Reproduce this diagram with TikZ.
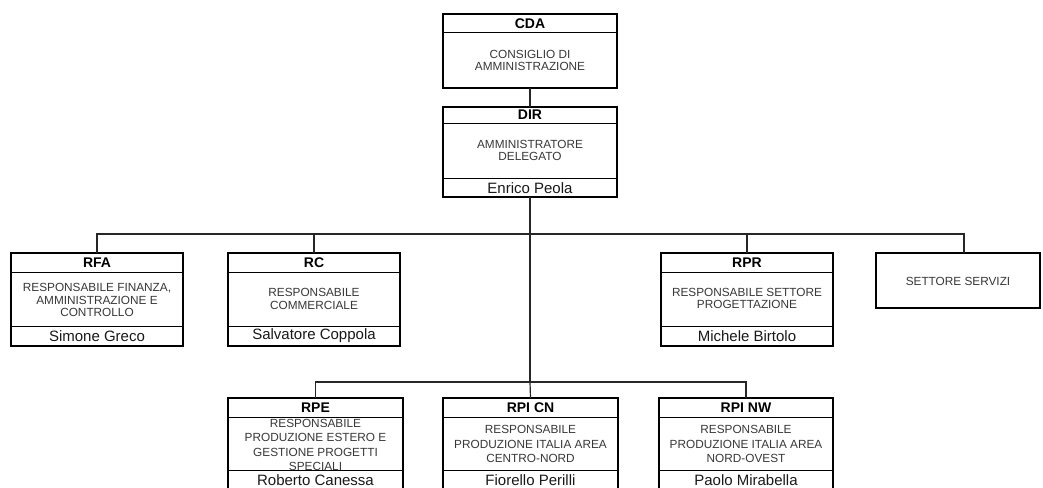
\documentclass[tikz,border=0pt]{standalone}
\usepackage{fontspec}
\setmainfont{Liberation Sans}
\tikzset{
  box/.style={draw=black, line width=2.2pt, inner sep=0pt, outer sep=0pt, fill=white},
  divline/.style={draw=black, line width=1pt},
  conn/.style={draw=black!85, line width=1.2pt},
  ttl/.style={inner sep=0pt, font=\fontsize{14}{16}\selectfont\bfseries, text=black},
  bodytxt/.style={inner sep=0pt, align=center, font=\fontsize{11.8}{12.8}\selectfont, text=black!78},
  bodytxtb/.style={inner sep=0pt, align=center, font=\fontsize{11.8}{14.3}\selectfont, text=black!78},
  nm/.style={inner sep=0pt, font=\fontsize{15}{16}\selectfont, text=black!90},
}
\begin{document}
\begin{tikzpicture}[x=1pt,y=-1pt]
\clip (0,0) rectangle (1043,487);
\fill[white] (0,0) rectangle (1043,487);

% ---- CDA ----
\node[box, minimum width=174pt, minimum height=74pt] (cda) at (530,51) {};
\draw[divline] ([yshift=-19pt]cda.north west) -- ([yshift=-19pt]cda.north east);
\node[ttl] (cda-t) at (530,23.5) {CDA};
\node[bodytxt] (cda-b) at (530,60.5) {CONSIGLIO DI\\AMMINISTRAZIONE};

% ---- DIR ----
\node[box, minimum width=174pt, minimum height=90pt] (dir) at (530,152) {};
\draw[divline] ([yshift=-16pt]dir.north west) -- ([yshift=-16pt]dir.north east);
\draw[divline] ([yshift=19pt]dir.south west) -- ([yshift=19pt]dir.south east);
\node[ttl] (dir-t) at (530,115) {DIR};
\node[bodytxt] (dir-b) at (530,150.5) {AMMINISTRATORE\\DELEGATO};
\node[nm] (dir-n) at (530,188) {Enrico Peola};

% ---- RFA ----
\node[box, minimum width=172pt, minimum height=93pt] (rfa) at (97,299.5) {};
\draw[divline] ([yshift=-19pt]rfa.north west) -- ([yshift=-19pt]rfa.north east);
\draw[divline] ([yshift=20pt]rfa.south west) -- ([yshift=20pt]rfa.south east);
\node[ttl] (rfa-t) at (97,262.5) {RFA};
\node[bodytxt] (rfa-b) at (97,300) {RESPONSABILE FINANZA,\\AMMINISTRAZIONE E\\CONTROLLO};
\node[nm] (rfa-n) at (97,336) {Simone Greco};

% ---- RC ----
\node[box, minimum width=172pt, minimum height=93pt] (rc) at (314,299.5) {};
\draw[divline] ([yshift=-19pt]rc.north west) -- ([yshift=-19pt]rc.north east);
\draw[divline] ([yshift=20pt]rc.south west) -- ([yshift=20pt]rc.south east);
\node[ttl] (rc-t) at (314,262.5) {RC};
\node[bodytxt] (rc-b) at (314,299) {RESPONSABILE\\COMMERCIALE};
\node[nm] (rc-n) at (314,336) {Salvatore Coppola};

% ---- RPR ----
\node[box, minimum width=172pt, minimum height=93pt] (rpr) at (747,299.5) {};
\draw[divline] ([yshift=-19pt]rpr.north west) -- ([yshift=-19pt]rpr.north east);
\draw[divline] ([yshift=20pt]rpr.south west) -- ([yshift=20pt]rpr.south east);
\node[ttl] (rpr-t) at (747,262.5) {RPR};
\node[bodytxt] (rpr-b) at (747,298.5) {RESPONSABILE SETTORE\\PROGETTAZIONE};
\node[nm] (rpr-n) at (747,336) {Michele Birtolo};

% ---- SETTORE SERVIZI ----
\node[box, minimum width=164pt, minimum height=55pt] (ss) at (958,280.5) {};
\node[bodytxt] (ss-b) at (958,281) {SETTORE SERVIZI};

% ---- RPE ----
\node[box, minimum width=175pt, minimum height=100pt] (rpe) at (315.5,448) {};
\draw[divline] ([yshift=-19pt]rpe.north west) -- ([yshift=-19pt]rpe.north east);
\draw[divline] ([yshift=-72pt]rpe.north west) -- ([yshift=-72pt]rpe.north east);
\node[ttl] (rpe-t) at (315.5,407.5) {RPE};
\node[bodytxtb] (rpe-b) at (315.5,445) {RESPONSABILE\\PRODUZIONE ESTERO E\\GESTIONE PROGETTI\\SPECIALI};
\node[nm] (rpe-n) at (315.5,480) {Roberto Canessa};

% ---- RPI CN ----
\node[box, minimum width=175pt, minimum height=100pt] (rpicn) at (530.5,448) {};
\draw[divline] ([yshift=-19pt]rpicn.north west) -- ([yshift=-19pt]rpicn.north east);
\draw[divline] ([yshift=-72pt]rpicn.north west) -- ([yshift=-72pt]rpicn.north east);
\node[ttl] (rpicn-t) at (530.5,407.5) {RPI CN};
\node[bodytxtb] (rpicn-b) at (530.5,444) {RESPONSABILE\\PRODUZIONE ITALIA AREA\\CENTRO-NORD};
\node[nm] (rpicn-n) at (530.5,480) {Fiorello Perilli};

% ---- RPI NW ----
\node[box, minimum width=174pt, minimum height=100pt] (rpinw) at (746,448) {};
\draw[divline] ([yshift=-19pt]rpinw.north west) -- ([yshift=-19pt]rpinw.north east);
\draw[divline] ([yshift=-72pt]rpinw.north west) -- ([yshift=-72pt]rpinw.north east);
\node[ttl] (rpinw-t) at (746,407.5) {RPI NW};
\node[bodytxtb] (rpinw-b) at (746,444) {RESPONSABILE\\PRODUZIONE ITALIA AREA\\NORD-OVEST};
\node[nm] (rpinw-n) at (746,480) {Paolo Mirabella};

% ---- connectors ----
\coordinate (h) at (530,234);
\coordinate (b) at (530,382);
\coordinate (sstop) at ([xshift=88pt]ss.north west);
\draw[conn] (cda.south) -- (dir.north);
\draw[conn] (dir.south) -- (b);
\draw[conn] (rfa.north) |- (h);
\draw[conn] (h) -| (sstop);
\draw[conn] (rc.north) -- (rc.north |- h);
\draw[conn] (rpr.north) -- (rpr.north |- h);
\draw[conn] (rpe.north) |- (b);
\draw[conn] (b) -| (rpinw.north);
\draw[conn] (b) -- (rpicn.north);
\end{tikzpicture}
\end{document}
